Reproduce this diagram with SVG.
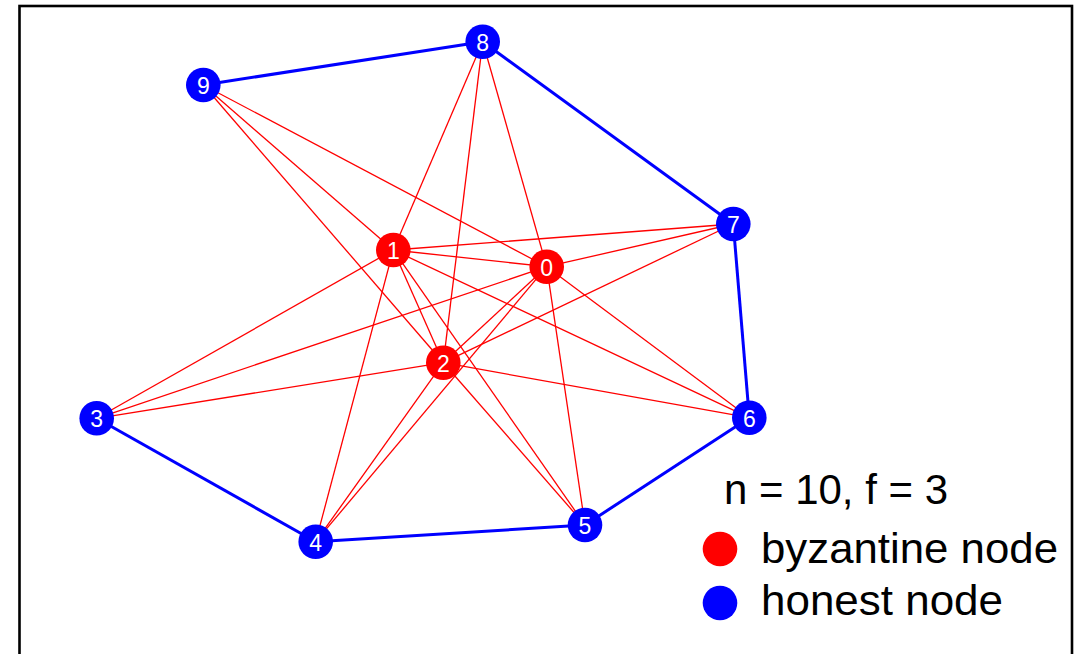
<svg xmlns="http://www.w3.org/2000/svg" width="1087" height="654" viewBox="0 0 1087 654">
  <style>
    .frame { fill: none; stroke: #000; stroke-width: 2.6; }
    .byz-edge { stroke: #ff0000; stroke-width: 1.3; }
    .hon-edge { stroke: #0000ff; stroke-width: 3; }
    .byz { fill: #ff0000; }
    .hon { fill: #0000ff; }
    .lbl { fill: #fff; font-family: "Liberation Sans", Arial, sans-serif; font-size: 23px; text-anchor: middle; dominant-baseline: central; }
    .legend { fill: #000; font-family: "Liberation Sans", Arial, sans-serif; font-size: 42px; }
  </style>

  <rect class="frame" x="19.5" y="6" width="1052.5" height="670"/>

  <g id="edges">
    <!-- edges from byzantine nodes 0, 1, 2 -->
    <line class="byz-edge" x1="546.7" y1="266.7" x2="393.3" y2="250"/>
    <line class="byz-edge" x1="546.7" y1="266.7" x2="443.3" y2="362.7"/>
    <line class="byz-edge" x1="393.3" y1="250" x2="443.3" y2="362.7"/>

    <line class="byz-edge" x1="546.7" y1="266.7" x2="203.3" y2="85"/>
    <line class="byz-edge" x1="546.7" y1="266.7" x2="482.7" y2="41.7"/>
    <line class="byz-edge" x1="546.7" y1="266.7" x2="733.3" y2="224"/>
    <line class="byz-edge" x1="546.7" y1="266.7" x2="96.7" y2="418.3"/>
    <line class="byz-edge" x1="546.7" y1="266.7" x2="315.7" y2="541.7"/>
    <line class="byz-edge" x1="546.7" y1="266.7" x2="585" y2="525"/>
    <line class="byz-edge" x1="546.7" y1="266.7" x2="749.3" y2="417.7"/>

    <line class="byz-edge" x1="393.3" y1="250" x2="203.3" y2="85"/>
    <line class="byz-edge" x1="393.3" y1="250" x2="482.7" y2="41.7"/>
    <line class="byz-edge" x1="393.3" y1="250" x2="733.3" y2="224"/>
    <line class="byz-edge" x1="393.3" y1="250" x2="96.7" y2="418.3"/>
    <line class="byz-edge" x1="393.3" y1="250" x2="315.7" y2="541.7"/>
    <line class="byz-edge" x1="393.3" y1="250" x2="585" y2="525"/>
    <line class="byz-edge" x1="393.3" y1="250" x2="749.3" y2="417.7"/>

    <line class="byz-edge" x1="443.3" y1="362.7" x2="203.3" y2="85"/>
    <line class="byz-edge" x1="443.3" y1="362.7" x2="482.7" y2="41.7"/>
    <line class="byz-edge" x1="443.3" y1="362.7" x2="733.3" y2="224"/>
    <line class="byz-edge" x1="443.3" y1="362.7" x2="96.7" y2="418.3"/>
    <line class="byz-edge" x1="443.3" y1="362.7" x2="315.7" y2="541.7"/>
    <line class="byz-edge" x1="443.3" y1="362.7" x2="585" y2="525"/>
    <line class="byz-edge" x1="443.3" y1="362.7" x2="749.3" y2="417.7"/>

    <!-- ring of honest nodes -->
    <line class="hon-edge" x1="203.3" y1="85" x2="482.7" y2="41.7"/>
    <line class="hon-edge" x1="482.7" y1="41.7" x2="733.3" y2="224"/>
    <line class="hon-edge" x1="733.3" y1="224" x2="749.3" y2="417.7"/>
    <line class="hon-edge" x1="749.3" y1="417.7" x2="585" y2="525"/>
    <line class="hon-edge" x1="585" y1="525" x2="315.7" y2="541.7"/>
    <line class="hon-edge" x1="315.7" y1="541.7" x2="96.7" y2="418.3"/>
  </g>

  <g id="node0"><circle class="byz" cx="546.7" cy="266.7" r="17.3"/><text class="lbl" x="546.7" y="267.5">0</text></g>
  <g id="node1"><circle class="byz" cx="393.3" cy="250" r="17.3"/><text class="lbl" x="393.3" y="250.8">1</text></g>
  <g id="node2"><circle class="byz" cx="443.3" cy="362.7" r="17.3"/><text class="lbl" x="443.3" y="363.5">2</text></g>
  <g id="node3"><circle class="hon" cx="96.7" cy="418.3" r="17.3"/><text class="lbl" x="96.7" y="419.1">3</text></g>
  <g id="node4"><circle class="hon" cx="315.7" cy="541.7" r="17.3"/><text class="lbl" x="315.7" y="542.5">4</text></g>
  <g id="node5"><circle class="hon" cx="585" cy="525" r="17.3"/><text class="lbl" x="585" y="525.8">5</text></g>
  <g id="node6"><circle class="hon" cx="749.3" cy="417.7" r="17.3"/><text class="lbl" x="749.3" y="418.5">6</text></g>
  <g id="node7"><circle class="hon" cx="733.3" cy="224" r="17.3"/><text class="lbl" x="733.3" y="224.8">7</text></g>
  <g id="node8"><circle class="hon" cx="482.7" cy="41.7" r="17.3"/><text class="lbl" x="482.7" y="42.5">8</text></g>
  <g id="node9"><circle class="hon" cx="203.3" cy="85" r="17.3"/><text class="lbl" x="203.3" y="85.8">9</text></g>

  <g id="legend">
    <text class="legend" x="724" y="504" textLength="224" lengthAdjust="spacingAndGlyphs">n = 10, f = 3</text>
    <circle class="byz" cx="720" cy="549" r="17.3"/>
    <text class="legend" x="761" y="562.5" textLength="297" lengthAdjust="spacingAndGlyphs">byzantine node</text>
    <circle class="hon" cx="720" cy="603" r="17.3"/>
    <text class="legend" x="761" y="614.5" textLength="242" lengthAdjust="spacingAndGlyphs">honest node</text>
  </g>
</svg>
